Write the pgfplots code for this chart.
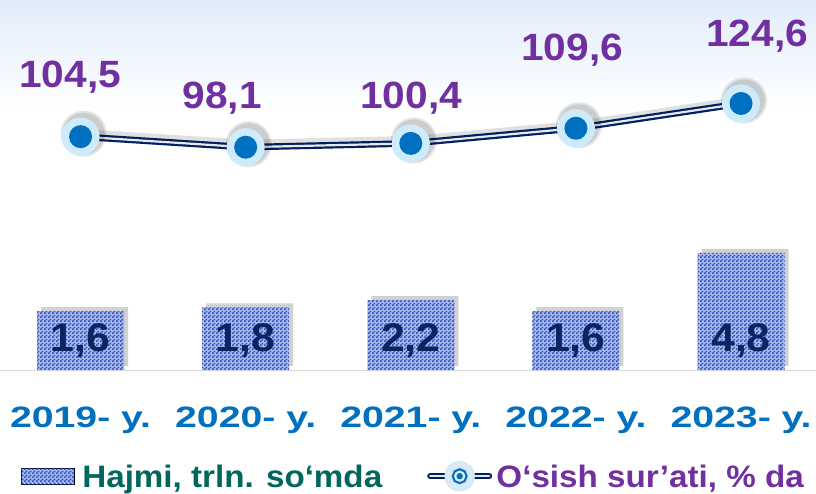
\documentclass[border=0pt]{standalone}
\usepackage{pgfplots}
\pgfplotsset{compat=1.18}
\usepackage{pgfplotstable}
\usepackage{fontspec}
\setmainfont{Liberation Sans}
\newfontfamily\lblfont[FakeStretch=1.07]{Liberation Sans}
\newfontfamily\xfont[FakeStretch=1.33]{Liberation Sans}
\usetikzlibrary{patterns,shadows}
\definecolor{bgblue}{HTML}{E1ECFA}
\definecolor{checkblue}{HTML}{2A4FC4}
\definecolor{checkbg}{HTML}{A8B8EA}
\definecolor{barlbl}{HTML}{0B2462}
\definecolor{xlbl}{HTML}{0070C0}
\definecolor{vallbl}{HTML}{7030A0}
\definecolor{legteal}{HTML}{00665E}
\definecolor{navy}{HTML}{002060}
\definecolor{markouter}{HTML}{CDEBFB}
\definecolor{markinner}{HTML}{0070C0}
\definecolor{gapgray}{HTML}{E8E8E8}

\pgfdeclarepatternformonly{mycheck}{\pgfpointorigin}{\pgfpoint{4bp}{4bp}}{\pgfpoint{4bp}{4bp}}{%
  \pgfpathrectangle{\pgfpointorigin}{\pgfpoint{2bp}{2bp}}%
  \pgfpathrectangle{\pgfpoint{2bp}{2bp}}{\pgfpoint{2bp}{2bp}}%
  \pgfusepath{fill}}

\pgfdeclareplotmark{ring}{%
  \pgfsetfillopacity{0.10}\pgfsetfillcolor{black}%
  \pgfpathcircle{\pgfpoint{3bp}{3bp}}{23bp}\pgfusepath{fill}%
  \pgfpathcircle{\pgfpoint{3bp}{3bp}}{21bp}\pgfusepath{fill}%
  \pgfsetfillopacity{1}%
  \pgfsetfillcolor{markouter}\pgfpathcircle{\pgfpointorigin}{19bp}\pgfusepath{fill}%
  \pgfsetfillcolor{markinner}\pgfpathcircle{\pgfpointorigin}{11.5bp}\pgfusepath{fill}}

\pgfplotstableread{
x v label
0 1.6 1,6
1 1.8 1,8
2 2.2 2,2
3 1.6 1,6
4 4.8 4,8
}\bardata

\pgfplotstableread{
x v label dx dy
0 104.5 104,5 -10.5 49.6
1 98.1 98,1 -23.6 39.2
2 100.4 100,4 0.3 35.4
3 109.6 109,6 -3.8 68.2
4 124.6 124,6 16.1 56.5
}\linedata

\begin{document}
\begin{tikzpicture}
\fill[white] (0,0) rectangle (816bp,494bp);
\shade[top color=bgblue, bottom color=white] (0,384bp) rectangle (816bp,494bp);

% bars
\begin{axis}[
  at={(0bp,124bp)}, anchor=south west,
  scale only axis, width=816bp, height=170bp,
  xmin=-0.488, xmax=4.454,
  y coord trafo/.code={\pgfmathparse{#1+1.64}},
  y coord inv trafo/.code={\pgfmathparse{#1-1.64}},
  ymin=-1.64, ymax=7.70,
  axis x line*=bottom, axis y line=none,
  axis line style={draw=black!15, line width=1bp},
  xtick={0,1,2,3,4},
  xticklabels={2019- y.,2020- y.,2021- y.,2022- y.,2023- y.},
  major tick length=0pt,
  xticklabel style={font=\xfont\bfseries\fontsize{29.5bp}{30bp}\selectfont, text=xlbl, anchor=base, yshift=-57bp},
  clip=false,
]
\addplot[ybar, bar width=87bp, draw=none,
  drop shadow={shadow xshift=4bp, shadow yshift=4bp, opacity=0.18, fill=black},
  preaction={fill=checkbg},
  pattern=mycheck, pattern color=checkblue]
  table[x=x, y=v] \bardata;
\addplot[draw=none, nodes near coords, point meta=explicit symbolic,
  every node near coord/.style={anchor=base, yshift=-10.85bp, inner sep=0pt,
    font=\lblfont\bfseries\fontsize{40bp}{40bp}\selectfont, text=barlbl}]
  table[x=x, y expr=0, meta=label] \bardata;
\end{axis}

% line
\begin{axis}[
  at={(0bp,124bp)}, anchor=south west,
  scale only axis, width=816bp, height=370bp,
  xmin=-0.488, xmax=4.454, ymin=-36.9, ymax=187.3,
  hide axis, clip=false,
  legend columns=2,
  legend style={at={(0.0257,-0.287)}, anchor=west, draw=none, fill=none,
    inner sep=0pt, outer sep=0pt, column sep=0pt,
    nodes={inner sep=0pt, anchor=base west},
    font=\lblfont\bfseries\fontsize{31bp}{31bp}\selectfont,
    /tikz/every even column/.append style={column sep=45bp}},
]
\addlegendimage{legend image code/.code={
  \path[draw=none, preaction={fill=checkbg}, pattern=mycheck, pattern color=checkblue] (0bp,3bp) rectangle (53bp,19bp);
  \path (61bp,11bp);}}
\addlegendentry{\textcolor{legteal}{Hajmi, trln. so‘mda}}

\addplot[black, opacity=0.12, line width=9bp, xshift=2bp, yshift=3bp, forget plot]
  table[x=x, y=v] \linedata;
\addplot[navy, line width=2.2bp, double=gapgray, double distance=2.2bp, mark=ring,
  nodes near coords, point meta=explicit symbolic,
  visualization depends on={\thisrow{dx}\as\dx},
  visualization depends on={\thisrow{dy}\as\dy},
  every node near coord/.style={anchor=base, xshift=\dx*1bp, yshift=\dy*1bp, inner sep=0pt,
    font=\lblfont\bfseries\fontsize{38bp}{38bp}\selectfont, text=vallbl},
  legend image code/.code={
    \draw[navy, line width=2bp, double=gapgray, double distance=2bp, line cap=round] (2bp,11bp) -- (61bp,11bp);
    \fill[markouter] (31.5bp,11bp) circle (12bp);
    \fill[markinner] (31.5bp,11bp) circle (4.5bp);
    \path (65bp,11bp);}]
  table[x=x, y=v, meta=label] \linedata;
\addlegendentry{\textcolor{vallbl}{O‘sish sur’ati, \% da}}
\end{axis}
\pgfresetboundingbox
\useasboundingbox (0,0) rectangle (816bp,494bp);
\end{tikzpicture}
\end{document}
